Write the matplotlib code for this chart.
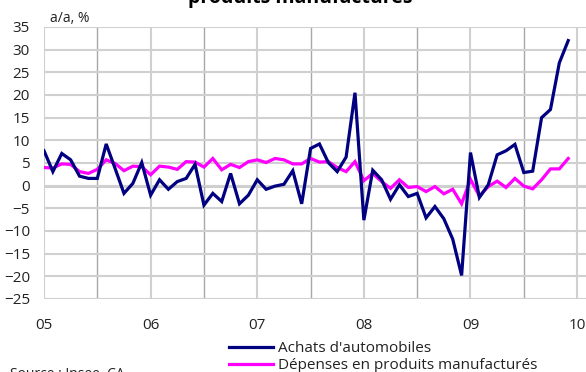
import matplotlib
matplotlib.use("Agg")
import matplotlib.pyplot as plt
from matplotlib.ticker import MultipleLocator, FixedLocator

plt.rcParams['font.family'] = ['Open Sans', 'DejaVu Sans']

year_labels = ['05', '06', '07', '08', '09', '10']
auto = [7.7, 3.1, 7.1, 5.7, 2.1, 1.6, 1.6, 9.2, 3.8, -1.7, 0.5, 5.1,
        -2.1, 1.3, -0.8, 0.9, 1.6, 4.7, -4.3, -1.7, -3.5, 2.7, -4.0, -2.1,
        1.3, -0.8, -0.1, 0.3, 3.3, -4.0, 8.2, 9.2, 5.1, 3.1, 6.3, 20.5,
        -7.6, 3.4, 1.3, -3.0, 0.2, -2.4, -1.7, -7.1, -4.6, -7.3, -11.8, -19.8,
        7.3, -2.6, 0.2, 6.8, 7.7, 9.1, 2.9, 3.2, 15.0, 16.8, 27.1, 32.0]
manuf = [4.0, 3.9, 4.8, 4.7, 3.1, 2.7, 3.6, 5.7, 4.9, 3.3, 4.3, 4.2,
         2.4, 4.3, 4.1, 3.6, 5.3, 5.2, 4.1, 6.0, 3.5, 4.7, 4.0, 5.3,
         5.7, 5.1, 6.0, 5.7, 4.8, 4.8, 6.0, 5.2, 5.3, 4.0, 3.1, 5.3,
         1.1, 2.7, 0.9, -0.6, 1.3, -0.4, -0.2, -1.3, -0.2, -1.8, -0.8, -4.0,
         1.4, -2.3, -0.2, 1.0, -0.4, 1.6, -0.1, -0.7, 1.3, 3.7, 3.7, 6.0]
months = list(range(len(auto)))

W, H = 586, 372
fig = plt.figure(figsize=(W / 100, H / 100), dpi=100)
ax = fig.add_axes([44 / W, (H - 299) / H, 1 - 44 / W, (299 - 27) / H])

ax.set_xlim(0, 61)
ax.set_ylim(-25, 35)

# gridlines
ax.yaxis.set_major_locator(MultipleLocator(5))
ax.xaxis.set_major_locator(FixedLocator([12 * i for i in range(len(year_labels))]))
ax.xaxis.set_minor_locator(FixedLocator([6 + 12 * i for i in range(len(year_labels) - 1)]))
ax.set_xticklabels(year_labels)
ax.grid(axis='y', which='major', color='#d0d0d0', linewidth=1.5, zorder=0)
ax.grid(axis='x', which='major', color='#d0d0d0', linewidth=1.5, zorder=0)
ax.grid(axis='x', which='minor', color='#a8a8a8', linewidth=1.0, zorder=0)
ax.axhline(0, color='black', linewidth=1.0, zorder=1)

for s in ax.spines.values():
    s.set_visible(False)
ax.tick_params(axis='both', which='both', length=0)
ax.tick_params(axis='y', pad=10, labelsize=11, colors='#222222')
ax.tick_params(axis='x', pad=14, labelsize=11, colors='#222222')

ax.plot(months, auto, color='#000080', linewidth=2.3, label="Achats d'automobiles", zorder=3,
        solid_joinstyle='miter')
ax.plot(months, manuf, color='#ff00ff', linewidth=2.3, label='Dépenses en produits manufacturés',
        zorder=2, solid_joinstyle='miter')

fig.text(50 / W, (H - 22) / H, 'a/a, %', fontsize=10, color='#222222', ha='left', va='baseline')
fig.text(300 / W, (H - 3) / H, "Achats d'automobiles et dépenses en\nproduits manufacturés",
         fontsize=14, fontweight='bold', ha='center', va='baseline', linespacing=1.1)
fig.text(10 / W, (H - 378) / H, 'Source : Insee, CA', fontsize=10, color='#222222',
         ha='left', va='baseline')

leg = fig.legend(loc='upper left', bbox_to_anchor=(229 / W, (H - 341) / H), frameon=False,
                 fontsize=11, handlelength=2.9, handletextpad=0.3, labelspacing=0.15,
                 borderpad=0, borderaxespad=0)
for t in leg.get_texts():
    t.set_color('#222222')

fig.savefig('out.png', dpi=100)
